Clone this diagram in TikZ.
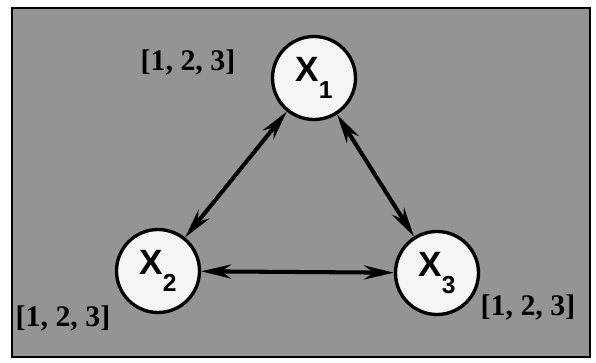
\documentclass[tikz,border=0pt]{standalone}
\usepackage{fontspec}
\setmainfont{Liberation Serif}
\setsansfont{Liberation Sans}
\usetikzlibrary{arrows.meta}
\newcommand{\vsub}[1]{\raisebox{-0.5em}{\fontsize{14}{14}\selectfont #1}}
\begin{document}
\begin{tikzpicture}[>={Stealth[length=17pt, width=8pt]},
        var/.style={circle, draw, line width=1.9pt, fill=white!96!black, minimum size=1.66cm, inner sep=0pt,
            font=\sffamily\bfseries\fontsize{20}{24}\selectfont},
        dom/.style={font=\bfseries\fontsize{17}{20}\selectfont, inner sep=0pt},
        link/.style={<->, line width=2.3pt}
    ]
        \useasboundingbox (0,0) rectangle (11.92,7.24);
        % Background panel
        \node (panel) [draw, line width=1.6pt, fill=black!42, minimum width=11.56cm, minimum height=6.98cm, inner sep=0pt] at (6.02,3.59) {};
        
        % Variables
        \node (x1) [var] at (6.28,5.68) {X\vsub{1}};
        \node (x2) [var] at (3.16,1.82) {X\vsub{2}};
        \node (x3) [var] at (8.74,1.78) {X\vsub{3}};
        
        % Domains
        \node (d1) [dom] at (3.76,6.00) {[1, 2, 3]};
        \node (d2) [dom] at (1.26,0.88) {[1, 2, 3]};
        \node (d3) [dom] at (10.56,1.10) {[1, 2, 3]};
        
        % Constraints
        \draw[link] (x1) -- (x2);
        \draw[link] (x1) -- (x3);
        \draw[link] (x2) -- (x3);
        
    \end{tikzpicture}
\end{document}
